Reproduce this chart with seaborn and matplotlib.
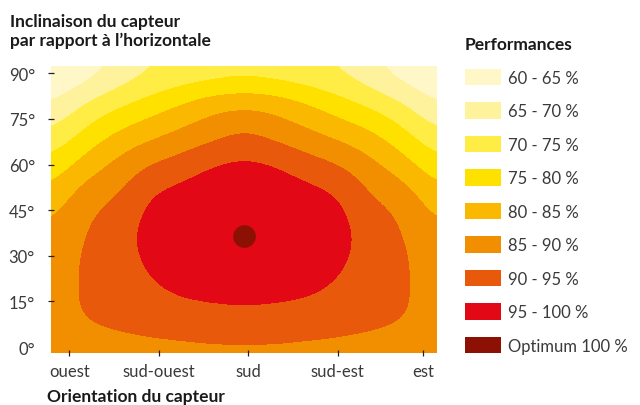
import matplotlib
matplotlib.use("Agg")
import matplotlib.pyplot as plt
import seaborn as sns
from matplotlib.colors import BoundaryNorm, ListedColormap
from matplotlib.patches import Patch

# orientation du capteur en degrés (0 = sud, négatif = ouest, positif = est)
orientations = [-98, -82, -66, -50, -34, -18, -2, 14, 30, 46, 62, 78, 94]
# inclinaison du capteur en degrés
inclinaisons = [0, 10, 20, 30, 40, 50, 60, 70, 80, 90]
# performance (%) estimée sur le graphique, une ligne par inclinaison
performance = [
    [85.3, 86.9, 87.8, 88.5, 88.8, 89.1, 89.1, 89.1, 88.8, 88.5, 87.8, 86.9, 85.3],
    [87.3, 90.9, 92.0, 92.6, 93.0, 93.3, 93.6, 93.3, 93.0, 92.6, 92.0, 90.9, 87.3],
    [87.7, 90.8, 92.5, 94.3, 96.2, 97.2, 97.7, 97.2, 96.2, 94.3, 92.5, 90.8, 87.7],
    [87.5, 90.7, 93.1, 96.1, 98.6, 99.7, 100.0, 99.7, 98.6, 96.1, 93.1, 90.7, 87.5],
    [85.7, 89.8, 93.1, 96.5, 98.8, 100.0, 100.0, 100.0, 98.8, 96.5, 93.1, 89.8, 85.7],
    [81.8, 88.2, 89.6, 95.5, 97.0, 98.3, 98.8, 98.3, 97.0, 95.5, 89.6, 88.2, 81.8],
    [76.7, 82.3, 86.5, 90.3, 92.3, 95.4, 96.4, 95.4, 92.3, 90.3, 86.5, 82.3, 76.7],
    [71.0, 76.4, 81.0, 83.6, 86.2, 88.2, 91.2, 88.2, 86.2, 83.6, 81.0, 76.4, 71.0],
    [65.0, 70.6, 74.0, 77.0, 80.3, 83.8, 84.4, 83.8, 80.3, 77.0, 74.0, 70.6, 65.0],
    [60.0, 62.3, 66.3, 69.7, 71.0, 71.8, 73.0, 71.8, 71.0, 69.7, 66.3, 62.3, 60.0],
]

niveaux = [60, 65, 70, 75, 80, 85, 90, 95, 100]
couleurs = ["#fff7c8", "#fff29c", "#ffec45", "#ffe100", "#fab800",
            "#f18f00", "#e8590c", "#e30815"]
couleur_optimum = "#8c1104"
etiquettes = ["60 - 65 %", "65 - 70 %", "70 - 75 %", "75 - 80 %", "80 - 85 %",
              "85 - 90 %", "90 - 95 %", "95 - 100 %"]

optimum_orientation = [-2]
optimum_inclinaison = [36.5]

orient_ticks = [-90, -45, 0, 45, 88]
orient_labels = ["ouest", "sud-ouest", "sud", "sud-est", "est"]
incl_ticks = [0, 15, 30, 45, 60, 75, 90]
incl_labels = ["0°", "15°", "30°", "45°", "60°", "75°", "90°"]

sns.set_theme(style="ticks")
plt.rcParams["font.family"] = ["Lato", "DejaVu Sans"]

gris = "#3a3a3a"
noir = "#1a1a1a"

fig = plt.figure(figsize=(6.4, 4.06), dpi=100)
ax = fig.add_axes([51 / 640, 52 / 406, 386 / 640, 287 / 406])

pas_o = orientations[1] - orientations[0]
pas_i = inclinaisons[1] - inclinaisons[0]
cmap = ListedColormap(couleurs)
norm = BoundaryNorm(niveaux, cmap.N, clip=True)
ax.imshow(performance, origin="lower", cmap=cmap, norm=norm, aspect="auto",
          interpolation="bicubic", interpolation_stage="data",
          extent=(orientations[0] - pas_o / 2, orientations[-1] + pas_o / 2,
                  inclinaisons[0] - pas_i / 2, inclinaisons[-1] + pas_i / 2))

sns.scatterplot(x=optimum_orientation, y=optimum_inclinaison, s=266,
                color=couleur_optimum, linewidth=0, ax=ax, zorder=3, legend=False)

ax.set_xlim(-99.3, 95.0)
ax.set_ylim(-1.97, 92.4)
sns.despine(ax=ax, left=True, bottom=True)

ax.set_xticks(orient_ticks, orient_labels)
ax.set_yticks(incl_ticks, incl_labels)
ax.tick_params(axis="both", direction="inout", length=4, width=0.9,
               color="#222222", labelsize=12, labelcolor=gris)
ax.tick_params(axis="y", pad=9.5)
ax.tick_params(axis="x", pad=5.5)
ax.yaxis.get_major_ticks()[0].tick1line.set_visible(False)

fig.text(10 / 640, 1 - 26.7 / 406, "Inclinaison du capteur", fontsize=12.5,
         fontweight="bold", color=noir, va="baseline", ha="left")
fig.text(10 / 640, 1 - 45.7 / 406, "par rapport à l’horizontale", fontsize=12.5,
         fontweight="bold", color=noir, va="baseline", ha="left")
fig.text(47 / 640, 1 - 402.5 / 406, "Orientation du capteur", fontsize=12.5,
         fontweight="bold", color=noir, va="baseline", ha="left")

poignees = [Patch(facecolor=c, edgecolor="none") for c in couleurs]
poignees.append(Patch(facecolor=couleur_optimum, edgecolor="none"))
leg = fig.legend(poignees, etiquettes + ["Optimum 100 %"], loc="upper left",
                 bbox_to_anchor=(465 / 640, 1 - 37 / 406), frameon=False,
                 title="Performances", alignment="left", fontsize=12,
                 title_fontproperties={"weight": "bold", "size": 12.5},
                 handlelength=2.16, handleheight=1.14, handletextpad=0.4,
                 labelspacing=1.0, borderpad=0, borderaxespad=0)
leg.get_title().set_color(noir)
for t in leg.get_texts():
    t.set_color(gris)

fig.savefig("out.png", dpi=100)
